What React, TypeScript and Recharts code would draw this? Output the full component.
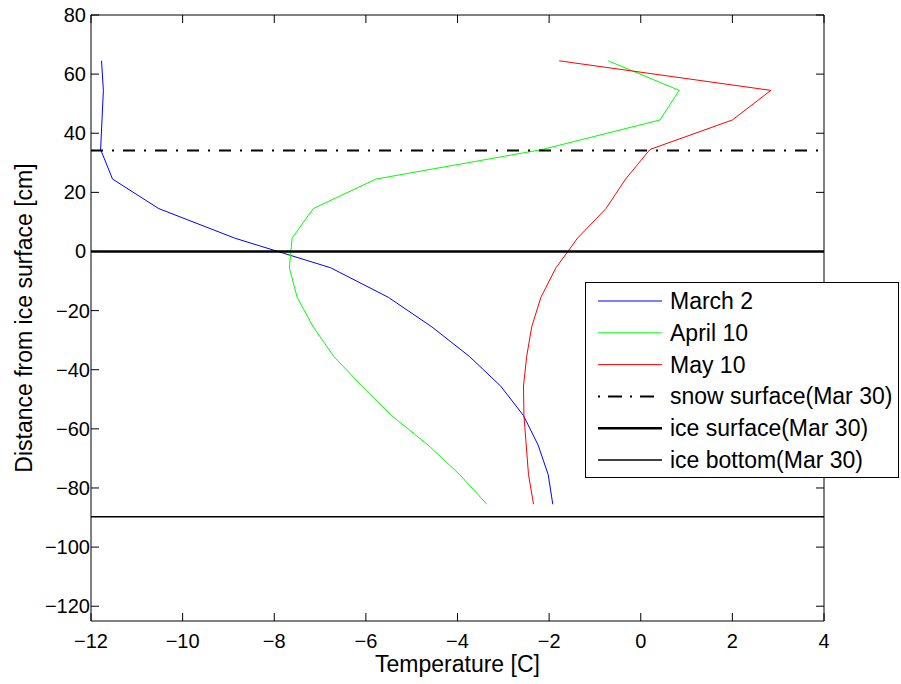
import {
    LineChart,
    Line,
    XAxis,
    YAxis,
    ReferenceLine,
    Legend,
} from "recharts";

// depth of each thermistor, cm relative to the ice surface
const depths = [
    64.5, 54.5, 44.5, 34.5, 24.5, 14.5, 4.5, -5.5, -15.5, -25.5, -35.5, -45.5,
    -55.5, -65.5, -75.5, -85.5,
];

// temperature profiles, °C
const march2 = [
    -11.77, -11.73, -11.76, -11.79, -11.53, -10.52, -8.86, -6.77, -5.51, -4.56,
    -3.74, -3.06, -2.56, -2.24, -2.02, -1.92,
];
const april10 = [
    -0.71, 0.84, 0.42, -2.15, -5.78, -7.15, -7.61, -7.67, -7.5, -7.15, -6.7,
    -6.09, -5.44, -4.64, -3.95, -3.36,
];
const may10 = [
    -1.78, 2.84, 2.0, 0.2, -0.33, -0.76, -1.38, -1.85, -2.18, -2.38, -2.49,
    -2.56, -2.55, -2.5, -2.45, -2.34,
];

// reference levels on Mar 30, cm
const snowSurface = 34.2;
const iceSurface = 0;
const iceBottom = -89.7;

const xTicks = [-12, -10, -8, -6, -4, -2, 0, 2, 4];
const yTicks = [-120, -100, -80, -60, -40, -20, 0, 20, 40, 60, 80];

const FONT = "'Liberation Sans', Arial, Helvetica, sans-serif";

const toPoints = (temps: number[]) =>
    temps.map((t, i) => ({ t, d: depths[i] }));

const series = [
    { name: "March 2", color: "#0000ff", data: toPoints(march2) },
    { name: "April 10", color: "#00ff00", data: toPoints(april10) },
    { name: "May 10", color: "#ff0000", data: toPoints(may10) },
];

const levels = [
    { name: "snow surface(Mar 30)", y: snowSurface, width: 2, dash: "12 9 2 9", legendDash: "2 8 14 8" },
    { name: "ice surface(Mar 30)", y: iceSurface, width: 2.5, dash: undefined, legendDash: undefined },
    { name: "ice bottom(Mar 30)", y: iceBottom, width: 1.5, dash: undefined, legendDash: undefined },
];

const fmt = (v: number) => String(v).replace("-", "\u2212");

const BottomTick = ({ x, y, payload }: any) => (
    <g>
        <line x1={x} y1={y} x2={x} y2={y - 8} stroke="#000" />
        <text x={x} y={y + 27} textAnchor="middle" fontSize={20} fontFamily={FONT} fill="#000">
            {fmt(payload.value)}
        </text>
    </g>
);

const TopTick = ({ x, y }: any) => (
    <line x1={x} y1={y} x2={x} y2={y + 8} stroke="#000" />
);

const LeftTick = ({ x, y, payload }: any) => (
    <g>
        <line x1={x} y1={y} x2={x + 8} y2={y} stroke="#000" />
        <text
            x={payload.value < 0 ? x - 1 : x - 5}
            y={y + 7}
            textAnchor="end"
            fontSize={20}
            fontFamily={FONT}
            fill="#000"
        >
            {fmt(payload.value)}
        </text>
    </g>
);

const RightTick = ({ x, y }: any) => (
    <line x1={x} y1={y} x2={x - 8} y2={y} stroke="#000" />
);

const xLabel = ({ viewBox }: any) => (
    <text
        x={viewBox.x + viewBox.width / 2}
        y={viewBox.y + 51}
        textAnchor="middle"
        fontSize={23}
        fontFamily={FONT}
        fill="#000"
    >
        Temperature [C]
    </text>
);

const yLabel = ({ viewBox }: any) => {
    const cx = 32;
    const cy = viewBox.y + viewBox.height / 2;
    return (
        <text
            x={cx}
            y={cy}
            transform={`rotate(-90, ${cx}, ${cy})`}
            textAnchor="middle"
            fontSize={23}
            fontFamily={FONT}
            fill="#000"
        >
            Distance from ice surface [cm]
        </text>
    );
};

const LegendBox = () => {
    const rows = [
        ...series.map((s) => ({ name: s.name, color: s.color, width: 1, dash: undefined as string | undefined })),
        ...levels.map((l) => ({ name: l.name, color: "#000", width: l.width, dash: l.legendDash })),
    ];
    return (
        <svg width={315} height={197} style={{ display: "block" }}>
            <rect x={0.5} y={0.5} width={313} height={195} fill="#fff" stroke="#000" />
            {rows.map((r, i) => {
                const ly = 19 + i * 31.8;
                return (
                    <g key={r.name}>
                        <line
                            x1={13}
                            x2={77}
                            y1={ly}
                            y2={ly}
                            stroke={r.color}
                            strokeWidth={r.width}
                            strokeDasharray={r.dash}
                        />
                        <text x={85} y={ly + 8} fontSize={23} fontFamily={FONT} fill="#000">
                            {r.name}
                        </text>
                    </g>
                );
            })}
        </svg>
    );
};

export default function App() {
    return (
        <div style={{ position: "absolute", left: 0, top: 0, width: 901, height: 684, background: "#fff" }}>
            <LineChart
                width={901}
                height={684}
                margin={{ top: 14, right: 76, bottom: 29, left: 0 }}
            >
                <XAxis
                    xAxisId="b"
                    dataKey="t"
                    type="number"
                    domain={[-12, 4]}
                    ticks={xTicks}
                    allowDataOverflow
                    height={34}
                    tickSize={0}
                    tickMargin={0}
                    tickLine={false}
                    tick={<BottomTick />}
                    axisLine={{ stroke: "#000" }}
                    label={xLabel}
                />
                <XAxis
                    xAxisId="t"
                    orientation="top"
                    dataKey="t"
                    type="number"
                    domain={[-12, 4]}
                    ticks={xTicks}
                    allowDataOverflow
                    height={1}
                    tickSize={0}
                    tickMargin={0}
                    tickLine={false}
                    tick={<TopTick />}
                    axisLine={{ stroke: "#000" }}
                />
                <YAxis
                    yAxisId="l"
                    dataKey="d"
                    type="number"
                    domain={[-125, 80]}
                    ticks={yTicks}
                    allowDataOverflow
                    width={91}
                    tickSize={0}
                    tickMargin={0}
                    tickLine={false}
                    tick={<LeftTick />}
                    axisLine={{ stroke: "#000" }}
                    label={yLabel}
                />
                <YAxis
                    yAxisId="r"
                    orientation="right"
                    dataKey="d"
                    type="number"
                    domain={[-125, 80]}
                    ticks={yTicks}
                    allowDataOverflow
                    width={1}
                    tickSize={0}
                    tickMargin={0}
                    tickLine={false}
                    tick={<RightTick />}
                    axisLine={{ stroke: "#000" }}
                />
                {series.map((s) => (
                    <Line
                        key={s.name}
                        xAxisId="b"
                        yAxisId="l"
                        data={s.data}
                        dataKey="d"
                        name={s.name}
                        type="linear"
                        stroke={s.color}
                        strokeWidth={1}
                        dot={false}
                        activeDot={false}
                        isAnimationActive={false}
                    />
                ))}
                {levels.map((l) => (
                    <ReferenceLine
                        key={l.name}
                        xAxisId="b"
                        yAxisId="l"
                        y={l.y}
                        stroke="#000"
                        strokeWidth={l.width}
                        strokeDasharray={l.dash}
                    />
                ))}
                <Legend
                    layout="vertical"
                    align="center"
                    verticalAlign="middle"
                    content={<LegendBox />}
                    wrapperStyle={{ position: "absolute", left: 585, top: 282, width: 315, height: 197 }}
                />
            </LineChart>
        </div>
    );
}
